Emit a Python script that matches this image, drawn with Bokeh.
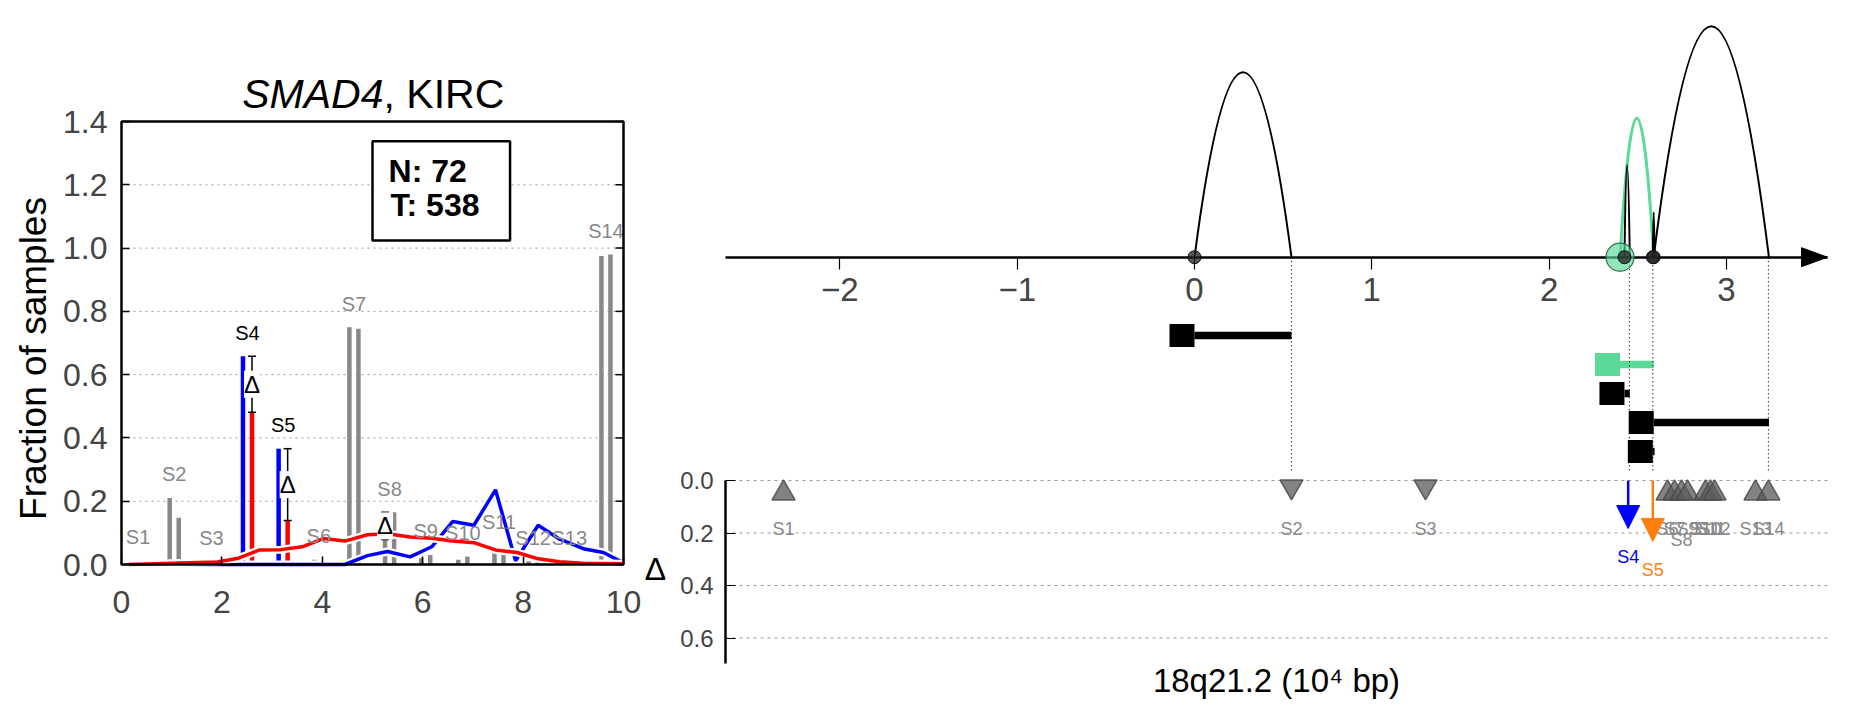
import math
from bokeh.plotting import figure
from bokeh.models import (Range1d, LinearAxis, FixedTicker, PrintfTickFormatter,
                          Arrow, NormalHead, ColumnDataSource)
from bokeh.embed import file_html
from bokeh.resources import INLINE
from bokeh.core.properties import value

FONT = "Liberation Sans"

# ---------------- left panel data ----------------
seg_labels = ["S1", "S2", "S3", "S4", "S5", "S6", "S7", "S8", "S9", "S10", "S11", "S12", "S13", "S14"]
seg_centers = [0.33, 1.05, 1.79, 2.51, 3.22, 3.93, 4.63, 5.34, 6.06, 6.8, 7.52, 8.2, 8.92, 9.65]
normal_frac = [0.0, 0.21, 0.01, 0.658, 0.366, 0.015, 0.75, 0.079, 0.02, 0.015, 0.058, 0.01, 0.008, 0.975]
tumor_frac = [0.012, 0.148, 0.0, 0.481, 0.139, 0.0, 0.745, 0.165, 0.03, 0.025, 0.04, 0.01, 0.005, 0.98]
significant = ["S4", "S5", "S8"]
highlighted = ["S4", "S5"]
n_normal = 72
n_tumor = 538
gene = "SMAD4"
cohort = "KIRC"

dens_x_tumor = [0.15, 1.0, 1.9, 2.33, 2.75, 3.18, 3.6, 4.02, 4.45, 4.9, 5.3, 5.75, 6.18, 6.6,
                7.02, 7.45, 7.88, 8.3, 8.73, 9.2, 9.6, 10.0]
dens_y_tumor = [0.0, 0.004, 0.008, 0.02, 0.046, 0.047, 0.056, 0.082, 0.074, 0.094, 0.097, 0.087,
                0.083, 0.074, 0.069, 0.046, 0.038, 0.018, 0.009, 0.004, 0.003, 0.002]
dens_x_normal = [0.15, 2.33, 2.75, 3.18, 3.6, 4.02, 4.45, 4.9, 5.3, 5.75, 6.18, 6.6, 7.02, 7.45,
                 7.85, 8.3, 8.73, 9.2, 9.6, 10.0]
dens_y_normal = [0.0, 0.0, 0.0, 0.0, 0.0, 0.0, 0.0, 0.028, 0.041, 0.024, 0.056, 0.136, 0.124,
                 0.236, 0.012, 0.124, 0.08, 0.05, 0.038, 0.005]

left_xticks = [0, 2, 4, 6, 8, 10]
left_yticks = [0.0, 0.2, 0.4, 0.6, 0.8, 1.0, 1.2, 1.4]
left_grid = [0.2, 0.4, 0.6, 0.8, 1.0, 1.2]

# ---------------- right panel data ----------------
region_start = [0.0, 2.40, 2.425, 2.59, 2.585]
region_end = [0.547, 2.59, 2.455, 3.24, 2.595]
arc_height = [185, 139, 92, 231, 45]
region_is_green = [False, True, False, False, False]
breakpoints = [0.547, 2.453, 2.585, 3.237]

site_names = ["S1", "S2", "S3", "S4", "S5", "S6", "S7", "S8", "S9", "S10", "S11", "S12", "S13", "S14"]
site_pos = [-2.318, 0.547, 1.303, 2.446, 2.585, 2.668, 2.707, 2.747, 2.781, 2.882, 2.91, 2.933, 3.164, 3.237]
site_delta = [0.036, 0.036, 0.036, 0.183, 0.232, 0.036, 0.036, 0.036, 0.036, 0.036, 0.036, 0.036, 0.036, 0.036]
site_dir = ["up", "down", "down", "arrow", "arrow", "up", "up", "up", "up", "up", "up", "up", "up", "up"]
site_label_y = [0.183, 0.183, 0.183, 0.29, 0.34, 0.183, 0.183, 0.225, 0.183, 0.183, 0.183, 0.183, 0.183, 0.183]

right_xticks = [-2, -1, 0, 1, 2, 3]
delta_ticks = [0.0, 0.2, 0.4, 0.6]
right_xlabel = "18q21.2 (10⁴ bp)"

# ---------------- styles / layout (page pixels) ----------------
GRAY = "#888888"
BLUE = "#0000ff"
RED = "#ff0000"
ORANGE = "#ff7f0e"
GREEN = "#5bd999"
BAR_OFF = 0.09
W, H = 1848, 716

# left panel mapping
LX0, LXS = 121.0, 50.2       # page x of data 0, px per unit
LY0, LYS = 564.0, 316.4      # page y of data 0, px per unit (upwards)
# right panel mapping
RX0, RXS = 1194.0, 177.3
RY0 = 256.7                  # arc panel: 1 unit = 1 px upwards
DY0, DYS = 480.0, 262.5      # delta panel: downwards
R_LEFT, R_RIGHT = 725.0, 1827.0


def lxr(px):
    return (px - LX0) / LXS


def lyr(py):
    return (LY0 - py) / LYS


def rxr(px):
    return (px - RX0) / RXS


p = figure(width=W, height=H, output_backend="svg", toolbar_location=None, title=None,
           x_range=Range1d(lxr(0), lxr(W)),
           y_range=Range1d(lyr(H), lyr(0)),
           x_axis_location=None, y_axis_location=None,
           min_border=0, min_border_left=0, min_border_right=0, min_border_top=0, min_border_bottom=0)
p.outline_line_color = None
p.grid.visible = False
p.extra_x_ranges = {"rx": Range1d(rxr(0), rxr(W))}
p.extra_y_ranges = {"ry": Range1d(RY0 - H, RY0),
                    "dy": Range1d((H - DY0) / DYS, -DY0 / DYS)}

# ================= LEFT PANEL =================
p.segment(x0=[0] * len(left_grid), y0=left_grid, x1=[10] * len(left_grid), y1=left_grid,
          line_color="#999999", line_width=1, line_dash="2 4")

bx, bh, bc = [], [], []
for name, c, hn, ht in zip(seg_labels, seg_centers, normal_frac, tumor_frac):
    hi = name in highlighted
    bx += [c - BAR_OFF, c + BAR_OFF]
    bh += [hn, ht]
    bc += [BLUE if hi else GRAY, RED if hi else GRAY]
p.segment(x0=bx, y0=[0] * len(bx), x1=bx, y1=bh, line_color=bc, line_width=4.5, line_cap="butt")

p.line(dens_x_normal, dens_y_normal, line_color="white", line_width=8)
p.line(dens_x_normal, dens_y_normal, line_color=BLUE, line_width=3.5)
p.line(dens_x_tumor, dens_y_tumor, line_color="white", line_width=8)
p.line(dens_x_tumor, dens_y_tumor, line_color=RED, line_width=3.5)

lab_y = [max(a, b) + 0.04 for a, b in zip(normal_frac, tumor_frac)]
lab_c = ["black" if n in highlighted else GRAY for n in seg_labels]
p.text(x=seg_centers, y=lab_y, text=seg_labels, text_color=lab_c, text_align="center",
       text_baseline="bottom", text_font=value(FONT), text_font_size="20px")

ex, elo, ehi = [], [], []
for name, c, hn, ht in zip(seg_labels, seg_centers, normal_frac, tumor_frac):
    if name in significant:
        ex.append(c + BAR_OFF if ht < hn else c - BAR_OFF)
        elo.append(min(hn, ht))
        ehi.append(max(hn, ht))
emid = [(a + b) / 2 for a, b in zip(elo, ehi)]
p.segment(x0=ex, y0=elo, x1=ex, y1=ehi, line_color="black", line_width=1.5)
p.scatter(x=ex, y=elo, marker="dash", size=8, line_color="black", line_width=1.5)
p.scatter(x=ex, y=ehi, marker="dash", size=8, line_color="black", line_width=1.5)
p.text(x=ex, y=emid, text=["Δ"] * len(ex), text_align="center", text_baseline="middle",
       text_font=value(FONT), text_font_size="24px", text_color="black",
       background_fill_color="white", padding=0)

# N / T box
p.quad(left=[5.0], right=[7.74], bottom=[1.024], top=[1.338], fill_color="white",
       line_color="black", line_width=2.5)
p.text(x=[5.32, 5.36], y=[1.245, 1.136], text=[f"N: {n_normal}", f"T: {n_tumor}"],
       text_align="left", text_baseline="middle", text_font=value(FONT),
       text_font_size="32px", text_font_style="bold", text_color="black")

# frame
p.quad(left=[0], right=[10], bottom=[0], top=[1.4], fill_color=None, line_color="black",
       line_width=2.5)
# right-side inward ticks
rt_len = 8 / LXS
p.segment(x0=[10 - rt_len] * len(left_yticks), y0=left_yticks, x1=[10] * len(left_yticks),
          y1=left_yticks, line_color="black", line_width=1.5)

# title: italic gene + cancer type
title_y = lyr(93)
title_split = lxr(383)
p.text(x=[title_split], y=[title_y], text=[gene], text_align="right", text_baseline="middle",
       text_font=value(FONT), text_font_size="41px", text_font_style="italic", text_color="black")
p.text(x=[title_split], y=[title_y], text=[f", {cohort}"], text_align="left",
       text_baseline="middle", text_font=value(FONT), text_font_size="41px",
       text_color="black")
# y-axis label
p.text(x=[lxr(33)], y=[lyr(358)], text=["Fraction of samples"], angle=math.pi / 2,
       text_align="center", text_baseline="middle", text_font=value(FONT),
       text_font_size="37px", text_color="black")

lxa = LinearAxis(fixed_location=0, bounds=(0, 10), ticker=FixedTicker(ticks=left_xticks),
                 axis_line_color=None, major_tick_in=8, major_tick_out=0, major_tick_line_width=1.5,
                 minor_tick_line_color=None, major_label_standoff=26,
                 major_label_text_font=FONT, major_label_text_font_size="32px")
p.add_layout(lxa, "below")
lya = LinearAxis(fixed_location=0, bounds=(0, 1.4), ticker=FixedTicker(ticks=left_yticks),
                 formatter=PrintfTickFormatter(format="%.1f"),
                 axis_line_color=None, major_tick_in=8, major_tick_out=0, major_tick_line_width=1.5,
                 minor_tick_line_color=None, major_label_standoff=14,
                 major_label_text_font=FONT, major_label_text_font_size="32px")
p.add_layout(lya, "left")

# ================= RIGHT PANEL (arcs) =================
RK = dict(x_range_name="rx", y_range_name="ry")
for s, e, h, g in zip(region_start, region_end, arc_height, region_is_green):
    p.quadratic(x0=[s], y0=[0], x1=[e], y1=[0], cx=[(s + e) / 2], cy=[2 * h],
                line_color=GREEN if g else "black", line_width=3 if g else 2, **RK)

SQ_W = 25 / RXS
row_y = [-78.3 - 29 * i for i in range(len(region_start))]
rcol = [GREEN if g else "black" for g in region_is_green]
p.rect(x=[s - SQ_W / 2 for s in region_start], y=row_y, width=SQ_W, height=23,
       fill_color=rcol, line_color=None, **RK)
p.segment(x0=region_start, y0=row_y, x1=region_end, y1=row_y, line_color=rcol,
          line_width=7.5, line_cap="butt", **RK)

p.segment(x0=breakpoints, y0=[0] * len(breakpoints), x1=breakpoints,
          y1=[RY0 - 470] * len(breakpoints), line_color="black", line_width=1.2,
          line_dash="1 3", **RK)

tax = LinearAxis(x_range_name="rx", y_range_name="ry", fixed_location=0,
                 bounds=(rxr(R_LEFT), rxr(R_RIGHT)), ticker=FixedTicker(ticks=right_xticks),
                 major_label_overrides={-2: "−2", -1: "−1"},
                 axis_line_width=2.5, axis_line_color="black",
                 major_tick_out=12, major_tick_in=0, major_tick_line_width=1.2,
                 minor_tick_line_color=None, major_label_standoff=9,
                 major_label_text_font=FONT, major_label_text_font_size="33px")
p.add_layout(tax, "below")

xe = rxr(R_RIGHT)
hl = 26 / RXS
p.patch(x=[xe - hl, xe, xe - hl], y=[9.5, 0, -9.5], fill_color="black", line_color="black",
        level="overlay", **RK)

gs = [s for s, g in zip(region_start, region_is_green) if g]
ds = [s for s, g in zip(region_start, region_is_green) if not g]
p.scatter(x=gs, y=[0] * len(gs), size=28, fill_color=GREEN, fill_alpha=0.65,
          line_color="#2f6f4a", line_width=1.2, level="overlay", **RK)
p.scatter(x=ds, y=[0] * len(ds), size=13, fill_color="#222222", fill_alpha=0.75,
          line_color="#111111", line_width=1, level="overlay", **RK)

# ================= RIGHT PANEL (delta) =================
DK = dict(x_range_name="rx", y_range_name="dy")
p.segment(x0=[rxr(R_LEFT)] * len(delta_ticks), y0=delta_ticks,
          x1=[rxr(R_RIGHT)] * len(delta_ticks), y1=delta_ticks,
          line_color="#999999", line_width=1, line_dash="3 4", **DK)

dax = LinearAxis(x_range_name="rx", y_range_name="dy", fixed_location=rxr(R_LEFT),
                 bounds=(0, (663 - DY0) / DYS), ticker=FixedTicker(ticks=delta_ticks),
                 formatter=PrintfTickFormatter(format="%.1f"), axis_line_width=2.5,
                 major_tick_in=10, major_tick_out=0, major_tick_line_width=1.2,
                 minor_tick_line_color=None, major_label_standoff=12,
                 major_label_text_font=FONT, major_label_text_font_size="24px")
p.add_layout(dax, "left")

TRI = 23
tri_shift = (TRI * math.sqrt(3) / 2 / 6) / DYS
tx, ty, tm = [], [], []
for p_, d, k in zip(site_pos, site_delta, site_dir):
    if k == "up":
        tx.append(p_); ty.append(d + tri_shift); tm.append("triangle")
    elif k == "down":
        tx.append(p_); ty.append(d - tri_shift); tm.append("inverted_triangle")
tsrc = ColumnDataSource(dict(x=tx, y=ty, m=tm))
p.scatter(x="x", y="y", marker="m", size=TRI, source=tsrc,
          fill_color="#5a5a5a", fill_alpha=0.75, line_color="#4a4a4a", line_alpha=0.85,
          line_width=1.5, **DK)

arrow_cols = {"S4": BLUE, "S5": ORANGE}
for n, p_, d, k in zip(site_names, site_pos, site_delta, site_dir):
    if k == "arrow":
        c = arrow_cols[n]
        p.add_layout(Arrow(end=NormalHead(size=23, fill_color=c, line_color=c),
                           x_start=p_, y_start=0, x_end=p_, y_end=d, line_color=c,
                           line_width=2.5, **DK))

site_text_col = [arrow_cols.get(n, GRAY) for n in site_names]
p.text(x=site_pos, y=site_label_y, text=site_names, text_color=site_text_col,
       text_align="center", text_baseline="middle", text_font=value(FONT),
       text_font_size="18px", **DK)

p.text(x=[rxr(655)], y=[(568 - DY0) / DYS], text=["Δ"], text_align="center",
       text_baseline="middle", text_font=value(FONT), text_font_size="32px",
       text_color="black", **DK)
p.text(x=[rxr((R_LEFT + R_RIGHT) / 2)], y=[(680 - DY0) / DYS], text=[right_xlabel],
       text_align="center", text_baseline="middle", text_font=value(FONT),
       text_font_size="33px", text_color="black", **DK)

open("out.html", "w").write(file_html(p, INLINE))
